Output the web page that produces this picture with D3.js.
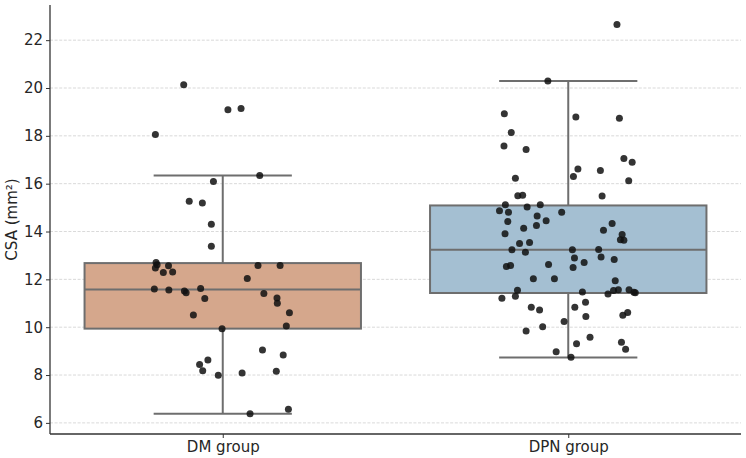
<!DOCTYPE html>
<html>
<head>
<meta charset="utf-8">
<script src="https://cdn.jsdelivr.net/npm/d3@7/dist/d3.min.js"></script>
<style>
  body { margin: 0; background: #fff; }
  svg { display: block; font-family: "DejaVu Sans", sans-serif; }
</style>
</head>
<body>
<svg id="chart" width="746" height="458"></svg>
<script>
// ---- data ----
const categories = ["DM group", "DPN group"];
const yTicks = [6, 8, 10, 12, 14, 16, 18, 20, 22];
const boxFill = ["#d5a78c", "#a4bfd2"];

// box statistics: [lower whisker, Q1, median, Q3, upper whisker]
const dmStats  = [6.38, 9.94, 11.58, 12.68, 16.34];
const dpnStats = [8.73, 11.43, 13.24, 15.09, 20.29];

// individual measurements (CSA, mm²)
const dmValues = [20.14, 19.09, 19.14, 18.06, 16.34, 16.09, 15.27, 15.19, 14.30, 13.38,
  12.71, 12.61, 12.47, 12.57, 12.29, 12.31, 12.58, 12.58, 12.04, 11.60,
  11.56, 11.51, 11.44, 11.62, 11.20, 11.41, 11.22, 11.00, 10.60, 10.05,
  10.51, 9.93, 9.05, 8.84, 8.63, 8.44, 8.18, 7.99, 8.09, 8.16, 6.38, 6.57];
// strip-plot jitter (category units) for each DM point
const dmJitter = [-0.113, 0.015, 0.053, -0.195, 0.107, -0.027, -0.097, -0.059, -0.033, -0.033,
  -0.193, -0.190, -0.195, -0.157, -0.172, -0.145, 0.102, 0.166, 0.071, -0.198,
  -0.156, -0.111, -0.106, -0.064, -0.052, 0.119, 0.157, 0.158, 0.193, 0.184,
  -0.085, -0.002, 0.115, 0.175, -0.043, -0.067, -0.058, -0.013, 0.056, 0.155, 0.079, 0.190];

const dpnValues = [22.65, 20.29, 18.92, 18.79, 18.74, 18.14, 17.58, 17.43, 17.05, 16.90,
  16.61, 16.55, 16.30, 16.23, 16.12, 15.50, 15.52, 15.48, 15.12, 15.02,
  15.12, 14.87, 14.81, 14.81, 14.65, 14.42, 14.45, 14.25, 14.14, 14.34,
  14.05, 13.91, 13.88, 13.66, 13.63, 13.50, 13.54, 13.24, 13.13, 13.24,
  13.25, 12.89, 12.93, 12.83, 12.70, 12.62, 12.54, 12.58, 12.50, 12.03,
  12.03, 11.94, 11.54, 11.47, 11.57, 11.53, 11.57, 11.44, 11.46, 11.39,
  11.21, 11.29, 10.83, 10.72, 10.83, 11.04, 10.45, 10.24, 9.84, 10.02,
  10.50, 10.61, 9.31, 9.58, 9.37, 9.08, 8.97, 8.74];
const dpnJitter = [0.141, -0.059, -0.185, 0.022, 0.148, -0.165, -0.186, -0.122, 0.161, 0.185,
  0.028, 0.093, 0.015, -0.153, 0.175, -0.146, -0.132, 0.098, -0.182, -0.119,
  -0.081, -0.199, -0.173, -0.019, -0.090, -0.175, -0.064, -0.092, -0.129, 0.127,
  0.102, -0.183, 0.156, 0.151, 0.161, -0.141, -0.112, -0.163, -0.124, 0.012,
  0.088, 0.018, 0.095, 0.133, 0.046, -0.057, -0.179, -0.167, 0.014, -0.101,
  -0.040, 0.136, -0.147, 0.041, 0.145, 0.131, 0.176, 0.194, 0.190, 0.115,
  -0.192, -0.153, -0.107, -0.083, 0.019, 0.050, 0.051, -0.012, -0.122, -0.074,
  0.158, 0.172, 0.024, 0.063, 0.154, 0.166, -0.035, 0.008];

const yLabel = "CSA (mm²)";

(function () {
// ---- layout ----
const svg = d3.select("#chart");
const mLeft = 50, mRight = 741, mTop = 5, mBottom = 434;
const fs = 15;

const x = d3.scaleLinear().domain([-0.5, 1.5]).range([mLeft, mRight]);
const y = d3.scaleLinear().domain([5.535, 23.47]).range([mBottom, mTop]);

// grid
svg.append("g").selectAll("line").data(yTicks).join("line")
  .attr("x1", mLeft).attr("x2", mRight)
  .attr("y1", d => y(d)).attr("y2", d => y(d))
  .attr("stroke", "#cfcfcf").attr("stroke-width", 0.8)
  .attr("stroke-dasharray", "3,1.6");

const groups = [
  { stats: dmStats, values: dmValues, jitter: dmJitter, fill: boxFill[0], i: 0 },
  { stats: dpnStats, values: dpnValues, jitter: dpnJitter, fill: boxFill[1], i: 1 }
];
const boxW = 0.8, capW = 0.4;
const edge = "#6e6e6e";

groups.forEach(g => {
  const [lo, q1, med, q3, hi] = g.stats;
  const gEl = svg.append("g");
  gEl.append("line").attr("x1", x(g.i)).attr("x2", x(g.i))
    .attr("y1", y(q3)).attr("y2", y(hi)).attr("stroke", edge).attr("stroke-width", 2);
  gEl.append("line").attr("x1", x(g.i)).attr("x2", x(g.i))
    .attr("y1", y(q1)).attr("y2", y(lo)).attr("stroke", edge).attr("stroke-width", 2);
  [lo, hi].forEach(v => {
    gEl.append("line").attr("x1", x(g.i - capW / 2)).attr("x2", x(g.i + capW / 2))
      .attr("y1", y(v)).attr("y2", y(v)).attr("stroke", edge).attr("stroke-width", 2);
  });
  gEl.append("rect")
    .attr("x", x(g.i - boxW / 2)).attr("width", x(g.i + boxW / 2) - x(g.i - boxW / 2))
    .attr("y", y(q3)).attr("height", y(q1) - y(q3))
    .attr("fill", g.fill).attr("stroke", edge).attr("stroke-width", 2);
  gEl.append("line").attr("x1", x(g.i - boxW / 2)).attr("x2", x(g.i + boxW / 2))
    .attr("y1", y(med)).attr("y2", y(med)).attr("stroke", edge).attr("stroke-width", 2);
});

groups.forEach(g => {
  svg.append("g").selectAll("circle").data(g.values).join("circle")
    .attr("cx", (d, k) => x(g.i + g.jitter[k]))
    .attr("cy", d => y(d))
    .attr("r", 3.5)
    .attr("fill", "#111").attr("fill-opacity", 0.85);
});

const yAxis = d3.axisLeft(y).tickValues(yTicks).tickSize(4).tickPadding(3);
const ya = svg.append("g").attr("transform", `translate(${mLeft},0)`).call(yAxis);
ya.select(".domain").attr("d", `M0,${mTop}V${mBottom}`).attr("stroke", "#333").attr("stroke-width", 1.3);
ya.selectAll(".tick line").attr("stroke", "#333");
ya.selectAll(".tick text").attr("font-size", fs).attr("fill", "#262626")
  .attr("font-family", "DejaVu Sans");

const xAxis = d3.axisBottom(x).tickValues([0, 1]).tickFormat(d => categories[d]).tickSize(4).tickPadding(3);
const xa = svg.append("g").attr("transform", `translate(0,${mBottom})`).call(xAxis);
xa.select(".domain").attr("d", `M${mLeft},0H${mRight}`).attr("stroke", "#333").attr("stroke-width", 1.3);
xa.selectAll(".tick line").attr("stroke", "#333");
xa.selectAll(".tick text").attr("font-size", fs).attr("fill", "#262626")
  .attr("font-family", "DejaVu Sans");

svg.append("text")
  .attr("transform", `translate(17,${(mTop + mBottom) / 2}) rotate(-90)`)
  .attr("text-anchor", "middle")
  .attr("font-size", fs).attr("fill", "#262626")
  .attr("font-family", "DejaVu Sans")
  .text(yLabel);
})();
</script>
</body>
</html>
